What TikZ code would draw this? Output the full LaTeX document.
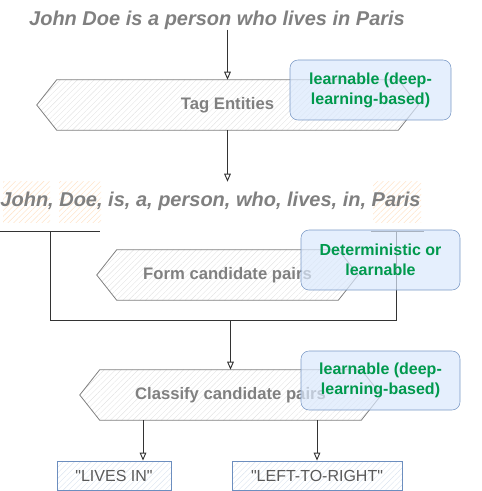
\documentclass[tikz,border=0pt]{standalone}
\usepackage{fontspec}
\setmainfont{Liberation Sans}[Ligatures=TeXOff]
\usetikzlibrary{calc,arrows.meta,patterns.meta,backgrounds}
\definecolor{txtgray}{HTML}{808080}
\definecolor{boxtxt}{HTML}{595959}
\definecolor{dkgray}{HTML}{333333}
\definecolor{bfill}{HTML}{DAE8FC}
\definecolor{bline}{HTML}{6C8EBF}
\definecolor{grn}{HTML}{00994D}
\definecolor{orhatch}{HTML}{FFD9B3}
\newcommand\hexpath[1]{%
  \path[hexline] ($(#1.north west)+(20,0)$) -- ($(#1.north east)+(-20,0)$) -- (#1.east)
    -- ($(#1.south east)+(-20,0)$) -- ($(#1.south west)+(20,0)$) -- (#1.west) -- cycle;}
\begin{document}
\begin{tikzpicture}[x=0.75pt,y=-0.75pt,
  arr/.style={draw=dkgray, line width=0.7pt, -{Triangle[open,length=6pt,width=5pt]}},
  conn/.style={draw=dkgray, line width=0.7pt},
  hexbox/.style={draw=none, inner sep=0pt, minimum height=37.5pt, text=txtgray,
    font=\fontsize{12.5}{14}\selectfont\bfseries},
  hexline/.style={draw=txtgray, line width=0.6pt,
    pattern={Lines[angle=45,distance=3pt,line width=0.3pt]}, pattern color=gray!22},
  note/.style={draw=bline, fill=bfill, fill opacity=0.7, draw opacity=0.9, text opacity=1,
    rounded corners=6pt, text=grn, font=\fontsize{12}{15}\selectfont\bfseries,
    align=center, inner sep=0pt, minimum height=45pt},
  bigtxt/.style={text=txtgray, font=\fontsize{15}{18}\selectfont\bfseries\itshape, inner sep=0pt},
  orh/.style={draw=none, inner sep=0pt, minimum height=30pt,
    pattern={Lines[angle=45,distance=3pt,line width=0.4pt]}, pattern color=orhatch!70},
  outbox/.style={draw=bline, line width=0.6pt, inner sep=0pt, minimum height=21.75pt,
    pattern={Lines[angle=45,distance=3pt,line width=0.3pt]}, pattern color=bline!25,
    text=boxtxt, font=\fontsize{12}{14}\selectfont}
]
\useasboundingbox (0,0) rectangle (481,491);

% title
\node[bigtxt] (title) at (217,20) {John Doe is a person who lives in Paris};

% step 1
\node[hexbox, minimum width=285.75pt] (tag) at (227.5,105) {Tag Entities};
\begin{scope}[on background layer]\hexpath{tag}\end{scope}
\draw[arr] (title.south -| tag.north) -- (tag.north);
\node[note, minimum width=120.75pt] (n1) at (370.5,90) {learnable (deep-\\learning-based)};

% tokens
\node[orh, minimum width=35.25pt] (hj) at (26.5,202) {};
\node[orh, minimum width=31.5pt] (hd) at (80,202) {};
\node[orh, minimum width=36pt] (hp) at (397,202) {};
\node[bigtxt] (tok) at (210.5,201) {John, Doe, is, a, person, who, lives, in, Paris};
\draw[arr] (tag.south) -- (tag.south |- hd.north);

% bracket
\coordinate (ul1) at (0,231);
\coordinate (ul2) at (100,231);
\coordinate (ur1) at (371,231);
\coordinate (ur2) at (424,231);
\coordinate (jl) at (50,231);
\coordinate (jr) at (396,231);
\coordinate (jm) at (230,320);
\draw[conn] (ul1) -- (ul2);
\draw[conn] (ur1) -- (ur2);
\draw[conn] (jl) -- (jl |- jm) -- (jr |- jm) -- (jr);

% step 2
\node[hexbox, minimum width=195.75pt] (form) at (227.5,275) {Form candidate pairs};
\begin{scope}[on background layer]\hexpath{form}\end{scope}
\node[note, minimum width=119.25pt] (n2) at (380.5,260) {Deterministic or\\learnable};

% step 3
\node[hexbox, minimum width=225.75pt] (cls) at (230.5,395) {Classify candidate pairs};
\begin{scope}[on background layer]\hexpath{cls}\end{scope}
\draw[arr] (cls.north |- jm) -- (cls.north);
\node[note, minimum width=119.25pt, minimum height=44.25pt] (n3) at (380.5,380.5) {learnable (deep-\\learning-based)};

% outputs
\node[outbox, minimum width=85.5pt] (lives) at (114,475.5) {"LIVES IN"};
\node[outbox, minimum width=127.5pt] (ltr) at (317,475.5) {"LEFT-TO-RIGHT"};
\coordinate (c1) at ($(cls.south)+(-87.5,0)$);
\draw[arr] (c1) -- (c1 |- lives.north);
\draw[arr] (cls.south -| ltr.north) -- (ltr.north);
\end{tikzpicture}
\end{document}
